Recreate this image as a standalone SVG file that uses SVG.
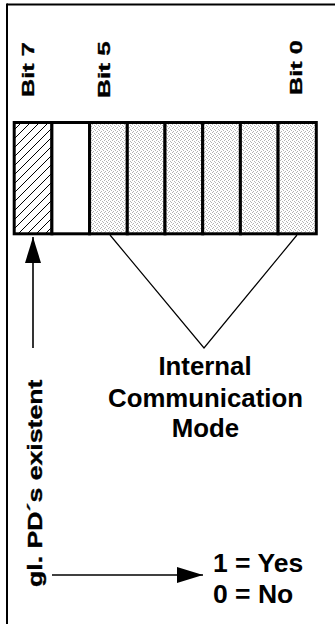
<svg xmlns="http://www.w3.org/2000/svg" width="335" height="624" viewBox="0 0 335 624">
  <style>
    .lbl { font-family: "Liberation Sans", Arial, sans-serif; font-weight: bold; fill: #000; }
    .heavy { stroke: #000; stroke-width: 0.35; }
    .cell { stroke: #000; stroke-width: 3; }
    .thin { stroke: #000; stroke-width: 1.2; fill: none; }
    .shaft { stroke: #000; stroke-width: 1.6; fill: none; }
  </style>
  <defs>
    <!-- diagonal hatch for bit 7 -->
    <pattern id="hatch" width="9" height="9" patternUnits="userSpaceOnUse">
      <rect width="9" height="9" fill="#fff"/>
      <path d="M-1,10 L10,-1 M-2,2 L2,-2 M7,11 L11,7" stroke="#000" stroke-width="1"/>
    </pattern>
    <!-- light stipple for bits 5..0 -->
    <pattern id="stipple" width="4" height="4" patternUnits="userSpaceOnUse">
      <rect width="4" height="4" fill="#fff"/>
      <rect x="0" y="0" width="1" height="1" fill="#b4b4b4"/>
      <rect x="2" y="1" width="1" height="1" fill="#b4b4b4"/>
      <rect x="1" y="3" width="1" height="1" fill="#b4b4b4"/>
      <rect x="3" y="2" width="1" height="1" fill="#b4b4b4"/>
    </pattern>
    <marker id="head" viewBox="0 0 26 16" refX="26" refY="8" markerWidth="26" markerHeight="16" markerUnits="userSpaceOnUse" orient="auto">
      <path d="M0,0 L26,8 L0,16 Z" fill="#000"/>
    </marker>
  </defs>

  <!-- frame (top and left edges) -->
  <g id="frame" stroke="#000" stroke-width="2" fill="none">
    <line x1="7" y1="4.5" x2="335" y2="4.5"/>
    <line x1="7" y1="3.5" x2="7" y2="624"/>
  </g>

  <!-- bit labels, drawn upright then turned and stretched along the reading direction -->
  <g id="bit-labels" class="lbl heavy" font-size="16.5">
    <text transform="translate(33.5,97) rotate(-90) scale(1.53,1)">Bit 7</text>
    <text transform="translate(110,98) rotate(-90) scale(1.59,1)">Bit 5</text>
    <text transform="translate(301.5,95) rotate(-90) scale(1.53,1)">Bit 0</text>
  </g>

  <!-- register byte -->
  <g id="register">
    <rect class="cell" x="14.2" y="122.5" width="37.7" height="111.3" fill="url(#hatch)"/>
    <rect class="cell" x="51.9" y="122.5" width="37.7" height="111.3" fill="#fff"/>
    <rect class="cell" x="89.6" y="122.5" width="37.7" height="111.3" fill="url(#stipple)"/>
    <rect class="cell" x="127.3" y="122.5" width="37.7" height="111.3" fill="url(#stipple)"/>
    <rect class="cell" x="165" y="122.5" width="37.7" height="111.3" fill="url(#stipple)"/>
    <rect class="cell" x="202.7" y="122.5" width="37.7" height="111.3" fill="url(#stipple)"/>
    <rect class="cell" x="240.4" y="122.5" width="37.7" height="111.3" fill="url(#stipple)"/>
    <rect class="cell" x="278.1" y="122.5" width="38.2" height="111.3" fill="url(#stipple)"/>
  </g>

  <!-- connectors -->
  <g id="connectors">
    <line class="shaft" x1="33" y1="348" x2="33" y2="237" marker-end="url(#head)"/>
    <polyline class="thin" points="110,235 204,348 297,235"/>
    <line class="shaft" x1="52" y1="575" x2="203" y2="575" marker-end="url(#head)"/>
  </g>

  <!-- internal communication mode -->
  <g id="icm-label" class="lbl" font-size="25.8" text-anchor="middle">
    <text x="205" y="375">Internal</text>
    <text x="205.5" y="407">Communication</text>
    <text x="205.5" y="437">Mode</text>
  </g>

  <!-- global PD flag -->
  <g id="pd-label" class="lbl heavy" font-size="21">
    <text transform="translate(41.5,587) rotate(-90) scale(1.27,1)">gl. PD´s existent</text>
  </g>

  <!-- value legend -->
  <g id="legend" class="lbl" font-size="26.5">
    <text x="213" y="572">1 = Yes</text>
    <text x="213" y="603">0 = No</text>
  </g>
</svg>
